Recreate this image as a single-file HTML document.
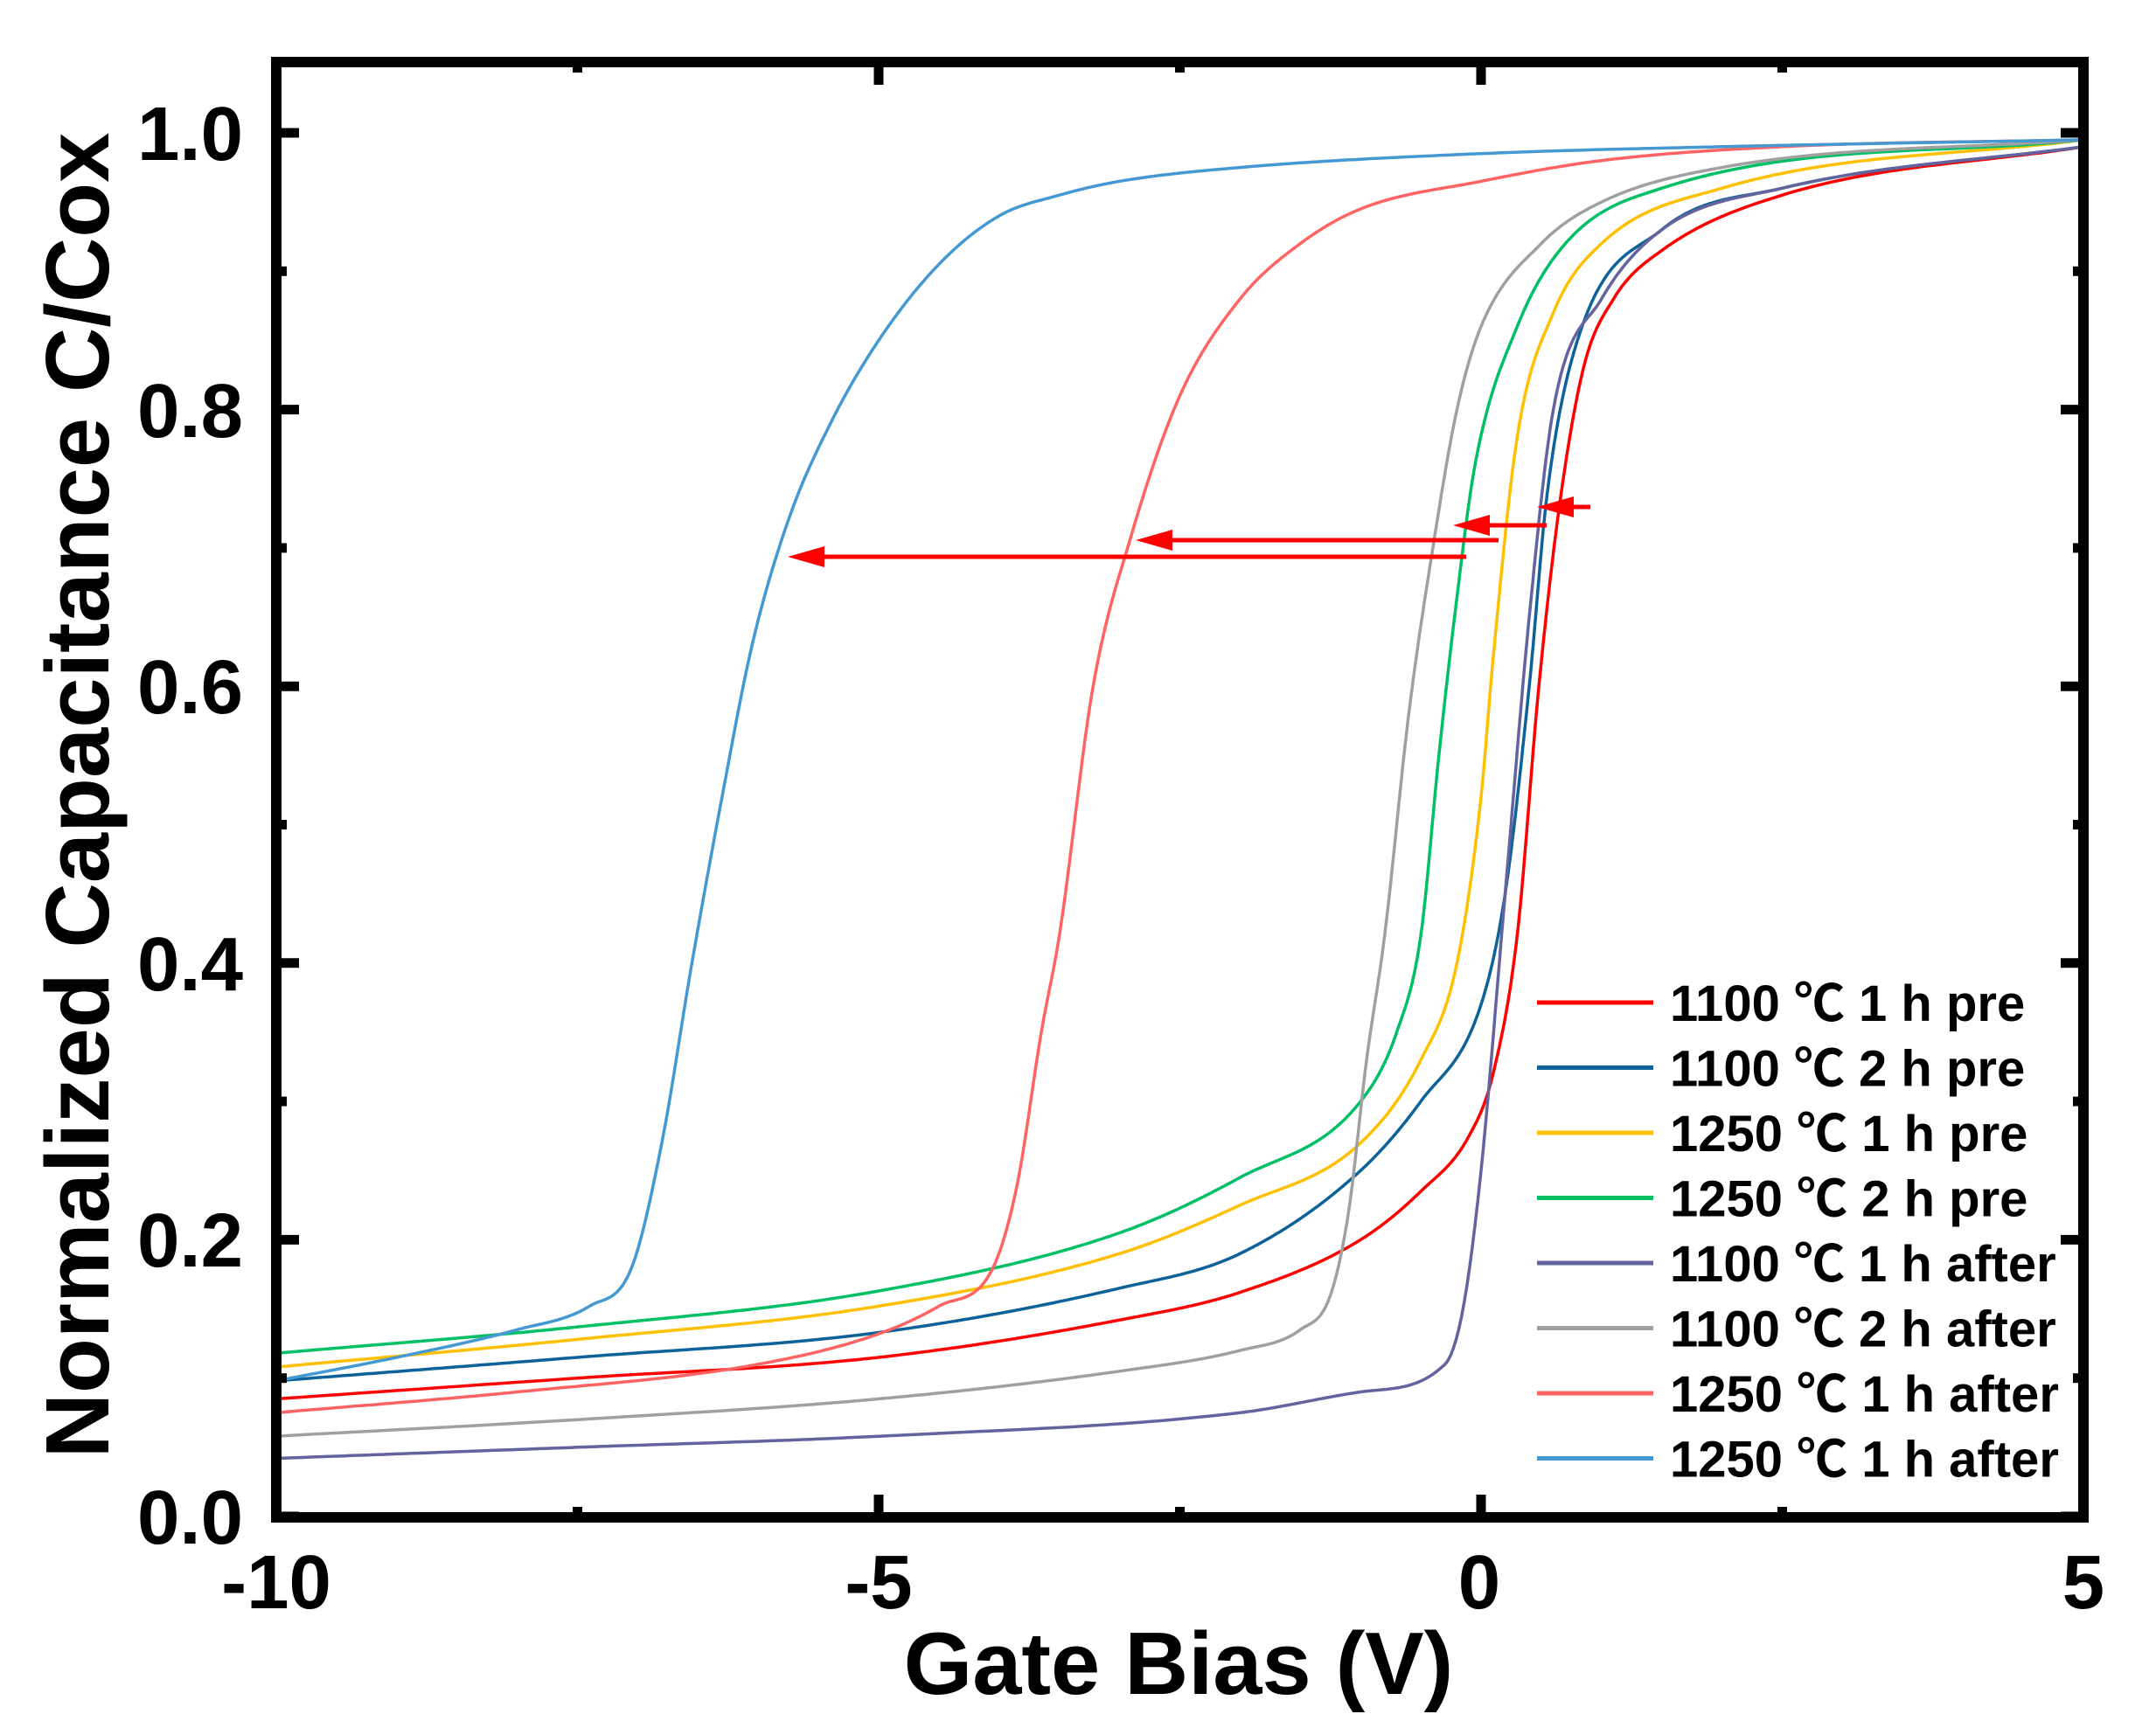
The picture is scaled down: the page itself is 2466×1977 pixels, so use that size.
<!DOCTYPE html>
<html><head><meta charset="utf-8"><style>
html,body{margin:0;padding:0;background:#fff;}
svg{display:block;}
text{font-family:"Liberation Sans","Noto Sans CJK SC",Arial,sans-serif;font-weight:bold;fill:#000;}
</style></head><body>
<svg id="s" width="2466" height="1977" viewBox="0 0 2466 1977" xmlns="http://www.w3.org/2000/svg">
<g id="curves" fill="none" stroke-width="3.5" stroke-linejoin="round"></g>
<g id="arrows"></g>
<g id="axes"></g>
<g font-size="87">
<text x="278" y="183" text-anchor="end">1.0</text>
<text x="278" y="500" text-anchor="end">0.8</text>
<text x="278" y="816" text-anchor="end">0.6</text>
<text x="278" y="1133" text-anchor="end">0.4</text>
<text x="278" y="1449" text-anchor="end">0.2</text>
<text x="278" y="1766" text-anchor="end">0.0</text>
<text x="316" y="1840" text-anchor="middle">-10</text>
<text x="1005" y="1840" text-anchor="middle">-5</text>
<text x="1692" y="1840" text-anchor="middle">0</text>
<text x="2383" y="1840" text-anchor="middle">5</text>
</g>
<text x="1348" y="1938" font-size="101" text-anchor="middle">Gate Bias (V)</text>
<text transform="translate(124,910) rotate(-90)" font-size="103" text-anchor="middle">Normalized Capacitance C/Cox</text>
<g id="legend" font-size="58"></g>
</svg>
<script>
var X=function(v){return 316+(v+10)*137.8;};
var Y=function(c){return 1735-c*1583;};
var series=[
["#ff0000","1100 ℃ 1 h pre",[[-10,.085],[-7.5,.10],[-5,.115],[-3,.142],[-2,.162],[-1,.20],[-0.5,.235],[-0.1,.275],[0.1,.32],[0.3,.42],[0.48,.6],[0.65,.73],[0.85,.83],[1.1,.88],[1.5,.915],[2.5,.955],[5,.99]]],
["#0d6299","1100 ℃ 2 h pre",[[-10,.098],[-7.5,.115],[-5,.133],[-3,.165],[-2,.19],[-1,.25],[-0.5,.30],[0,.37],[0.2,.45],[0.4,.60],[0.55,.74],[0.8,.85],[1.5,.93],[2.5,.96],[5,.99]]],
["#ffc000","1250 ℃ 1 h pre",[[-10,.108],[-7.5,.128],[-5,.152],[-3,.19],[-2,.225],[-1,.27],[-0.5,.33],[-0.2,.40],[0,.52],[0.1,.62],[0.3,.78],[0.6,.87],[1,.92],[2,.96],[5,.995]]],
["#00c066","1250 ℃ 2 h pre",[[-10,.118],[-7.5,.137],[-5,.163],[-3,.205],[-2,.245],[-1,.30],[-0.7,.35],[-0.5,.42],[-0.35,.55],[-0.22,.65],[-0.05,.76],[0.3,.86],[0.7,.92],[1.5,.96],[5,.995]]],
["#63639e","1100 ℃ 1 h after",[[-10,.042],[-7.5,.05],[-5,.058],[-2,.075],[-1,.09],[-0.3,.11],[-0.15,.15],[0,.25],[0.2,.45],[0.4,.65],[0.6,.8],[1,.88],[1.5,.93],[2.5,.96],[5,.99]]],
["#a0a0a0","1100 ℃ 2 h after",[[-10,.058],[-7.5,.07],[-5,.085],[-3,.105],[-2,.12],[-1.5,.135],[-1.25,.16],[-1.1,.22],[-0.95,.33],[-0.8,.42],[-0.6,.58],[-0.4,.70],[-0.2,.8],[0,.86],[0.5,.92],[1,.95],[2,.975],[5,.995]]],
["#ff6363","1250 ℃ 1 h after",[[-10,.075],[-8,.09],[-6,.11],[-5,.132],[-4.5,.152],[-4.05,.18],[-3.85,.24],[-3.65,.35],[-3.5,.42],[-3.22,.6],[-2.9,.71],[-2.5,.81],[-2,.88],[-1.5,.92],[-1,.945],[0,.965],[1,.98],[2.5,.99],[5,.995]]],
["#4499d2","1250 ℃ 1 h after",[[-10,.098],[-9,.115],[-8,.135],[-7.4,.152],[-7.05,.18],[-6.8,.27],[-6.55,.4],[-6.3,.52],[-6.05,.63],[-5.75,.72],[-5.4,.79],[-5,.85],[-4.5,.905],[-4,.94],[-3.5,.955],[-3,.965],[-2,.975],[0,.985],[2,.99],[5,.995]]]
];
function mono(p){var n=p.length,d=[],m=[];for(var i=0;i<n-1;i++)d.push((p[i+1][1]-p[i][1])/(p[i+1][0]-p[i][0]));
m[0]=d[0];m[n-1]=d[n-2];for(i=1;i<n-1;i++){m[i]=(d[i-1]*d[i]<=0)?0:(d[i-1]+d[i])/2;}
for(i=0;i<n-1;i++){if(d[i]==0){m[i]=m[i+1]=0;continue;}var a=m[i]/d[i],b=m[i+1]/d[i],h=a*a+b*b;if(h>9){var t=3/Math.sqrt(h);m[i]=t*a*d[i];m[i+1]=t*b*d[i];}}
var out=[];for(i=0;i<n-1;i++){var x0=p[i][0],x1=p[i+1][0],y0=p[i][1],y1=p[i+1][1],hh=x1-x0;
for(var k=0;k<40;k++){var t=k/40,t2=t*t,t3=t2*t;var y=(2*t3-3*t2+1)*y0+(t3-2*t2+t)*hh*m[i]+(-2*t3+3*t2)*y1+(t3-t2)*hh*m[i+1];out.push([x0+t*hh,y]);}}
out.push(p[n-1]);return out;}
var NS="http://www.w3.org/2000/svg";
function el(t,a,par){var e=document.createElementNS(NS,t);for(var k in a)e.setAttribute(k,a[k]);par.appendChild(e);return e;}
var cg=document.getElementById("curves"),lg=document.getElementById("legend");
series.forEach(function(s,i){var pts=mono(s[2]);var d=pts.map(function(p,j){return (j?"L":"M")+X(p[0]).toFixed(1)+" "+Y(p[1]).toFixed(1);}).join("");
el("path",{d:d,stroke:s[0]},cg);
var yy=1147+i*74.5;el("line",{x1:1758,x2:1891,y1:yy,y2:yy,stroke:s[0],"stroke-width":5},lg);
var t=el("text",{x:1910,y:yy+21},lg);t.textContent=s[1];});
var ag=document.getElementById("arrows");
[[901,1677,637],[1299,1714,618],[1662,1769,601],[1758,1819,580]].forEach(function(a){
el("line",{x1:a[0]+20,x2:a[1],y1:a[2],y2:a[2],stroke:"#ff0000","stroke-width":5},ag);
el("polygon",{points:a[0]+","+a[2]+" "+(a[0]+42)+","+(a[2]-12)+" "+(a[0]+42)+","+(a[2]+12),fill:"#ff0000"},ag);});
var ax=document.getElementById("axes");
el("rect",{x:316,y:71,width:2067,height:1665,fill:"none",stroke:"#000","stroke-width":12},ax);
for(var v=-10;v<=5;v+=2.5){var x=X(v),L=(v%5==0)?26:12;
el("line",{x1:x,x2:x,y1:1736,y2:1736-L,stroke:"#000","stroke-width":11},ax);
el("line",{x1:x,x2:x,y1:71,y2:71+L,stroke:"#000","stroke-width":11},ax);}
for(var j=0;j<=10;j++){var y=Y(j/10),L=(j%2==0)?26:12;
el("line",{x1:316,x2:316+L,y1:y,y2:y,stroke:"#000","stroke-width":11},ax);
el("line",{x1:2383,x2:2383-L,y1:y,y2:y,stroke:"#000","stroke-width":11},ax);}
</script>
</body></html>
